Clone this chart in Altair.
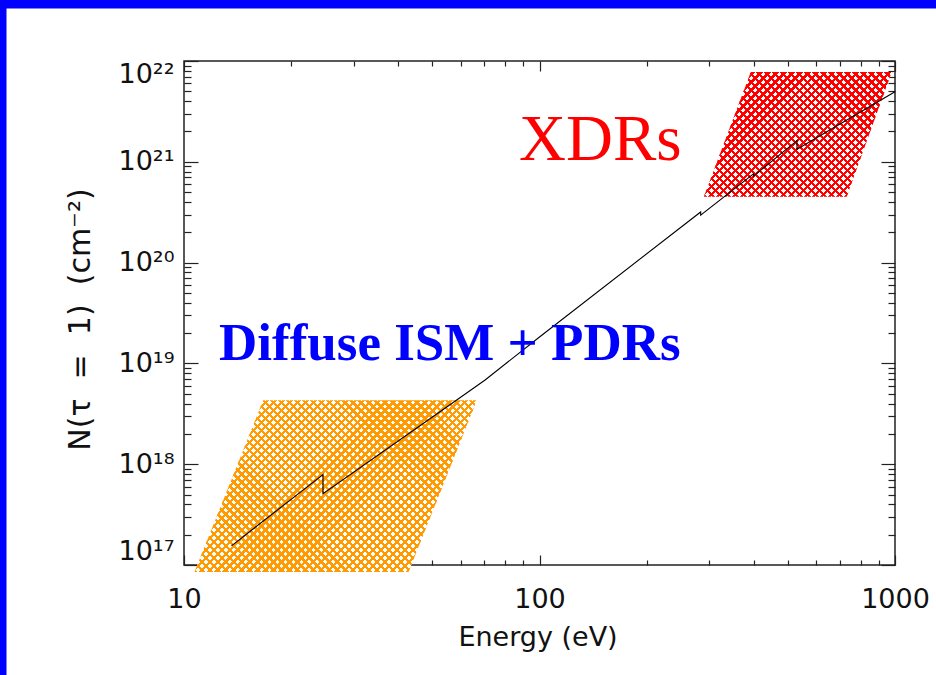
import math
import altair as alt
import pandas as pd

# ---------------- data ----------------
energy_ev = [13.6, 24.6, 24.6, 58.5, 70.3, 100, 284, 284, 400, 400, 530, 530, 1000]
column_cm2 = [1.55e17, 7.9e17, 5.1e17, 4.34e18, 6.85e18, 1.83e19, 3.18e20, 2.95e20,
              7.6e20, 7.2e20, 1.62e21, 1.33e21, 4.96e21]

# parallelogram regions: bottom edge and top edge
diffuse_N = [8.5e16, 4.3e18]
diffuse_E_left = [10.7, 16.7]
diffuse_E_right = [42.8, 66.6]
xdr_N = [4.5e20, 7.8e21]
xdr_E_left = [290, 393]
xdr_E_right = [731, 979]

label_text = ["XDRs", "Diffuse ISM + PDRs"]
label_E = [87.6, 12.55]
label_N = [1.04e21, 1.08e19]

x_major = [10, 100, 1000]
x_minor = [20, 30, 40, 50, 60, 70, 80, 90, 200, 300, 400, 500, 600, 700, 800, 900]
y_major = [1e17, 1e18, 1e19, 1e20, 1e21, 1e22]
y_minor = [2e17, 3e17, 4e17, 5e17, 6e17, 7e17, 8e17, 9e17,
           2e18, 3e18, 4e18, 5e18, 6e18, 7e18, 8e18, 9e18,
           2e19, 3e19, 4e19, 5e19, 6e19, 7e19, 8e19, 9e19,
           2e20, 3e20, 4e20, 5e20, 6e20, 7e20, 8e20, 9e20,
           2e21, 3e21, 4e21, 5e21, 6e21, 7e21, 8e21, 9e21]

# ---------------- tables ----------------
line_df = pd.DataFrame({"E": energy_ev, "N": column_cm2, "i": list(range(len(energy_ev)))})
diffuse_df = pd.DataFrame({"N": diffuse_N, "El": diffuse_E_left, "Er": diffuse_E_right})
xdr_df = pd.DataFrame({"N": xdr_N, "El": xdr_E_left, "Er": xdr_E_right})
label_df = pd.DataFrame({"t": label_text, "E": label_E, "N": label_N})

W, H = 711, 504
LEFT, TOP = 184, 61
X_DEC, Y_DEC = 2, 5  # decades spanned by the axes

xscale = alt.Scale(type="log", domain=[10, 1000], nice=False)
yscale = alt.Scale(type="log", domain=[1e17, 1e22], nice=False)

FONT = "DejaVu Sans"
TICK_COLOR = "#222222"
HATCH_PERIOD = 8.0  # px, horizontal period of the cross-hatch
NBSP = "\u00a0"
Y_TITLE = "N(τ" + " " + NBSP + "=" + NBSP + " 1)" + " " + NBSP + "(cm⁻²)"


def stripes(color, bg, frac, e_left, e_right, n_vals, anti):
    # size (px) of the region's bounding box, so the hatch is square at 45 degrees
    bw = W / X_DEC * math.log10(max(e_right) / min(e_left))
    bh = H / Y_DEC * math.log10(max(n_vals) / min(n_vals))
    n = max(1, round((bw + bh) / HATCH_PERIOD))
    k = (bw + bh) / (bw * bw + bh * bh)
    a, b = bw * k, bh * k
    stops = []
    for i in range(n):
        t0 = i / n
        t1 = (i + frac) / n
        t2 = (i + 1) / n
        stops += [alt.GradientStop(offset=t0, color=color),
                  alt.GradientStop(offset=t1, color=color),
                  alt.GradientStop(offset=t1, color=bg),
                  alt.GradientStop(offset=t2, color=bg)]
    if anti:
        return alt.LinearGradient(gradient="linear", stops=stops, x1=0, y1=1, x2=a, y2=1 - b)
    return alt.LinearGradient(gradient="linear", stops=stops, x1=0, y1=0, x2=a, y2=b)


def xaxis(orient, values, size, labels=False, title=None):
    kw = dict(orient=orient, values=values, tickSize=size, offset=-size, domain=False,
              grid=False, labels=labels, tickColor=TICK_COLOR, tickWidth=1.2, title=title)
    if labels:
        kw.update(format="d", labelFont=FONT, labelFontSize=27, labelColor="#111111",
                  labelPadding=21, labelFlush=False, labelOverlap=False)
    if title:
        kw.update(titleFont=FONT, titleFontSize=27, titleFontWeight="normal",
                  titleColor="#111111", titleX=W / 2 - 2, titleY=90,
                  titleAlign="center", titleBaseline="alphabetic")
    return alt.Axis(**kw)


Y_LABEL_EXPR = ("datum.value < 5e17 ? '10¹⁷' : datum.value < 5e18 ? '10¹⁸' : "
                "datum.value < 5e19 ? '10¹⁹' : datum.value < 5e20 ? '10²⁰' : "
                "datum.value < 5e21 ? '10²¹' : '10²²'")


def yaxis(orient, values, size, labels=False, title=None):
    kw = dict(orient=orient, values=values, tickSize=size, offset=-size, domain=False,
              grid=False, labels=labels, tickColor=TICK_COLOR, tickWidth=1.2, title=title)
    if labels:
        kw.update(labelExpr=Y_LABEL_EXPR, labelFont=FONT, labelFontSize=27,
                  labelColor="#111111", labelPadding=10, labelFlush=True,
                  labelOverlap=False)
    if title:
        kw.update(titleFont=FONT, titleFontSize=30, titleFontWeight="normal",
                  titleColor="#111111", titleX=-118, titleY=H / 2 + 6,
                  titleAlign="center", titleBaseline="middle", titleAngle=270)
    return alt.Axis(**kw)


ORANGE = "#FF9A00"
RED = "#FF0000"
CLEAR = "rgba(255,255,255,0)"

orange_a = alt.Chart(diffuse_df).mark_area(
    orient="horizontal",
    fill=stripes(ORANGE, "#FFFFFF", 0.42, diffuse_E_left, diffuse_E_right, diffuse_N, False)
).encode(
    y=alt.Y("N:Q", scale=yscale, axis=yaxis("left", y_major, 14, True, Y_TITLE)),
    x=alt.X("El:Q", scale=xscale, axis=xaxis("bottom", x_major, 10, True, "Energy (eV)")),
    x2="Er:Q",
)
orange_b = alt.Chart(diffuse_df).mark_area(
    orient="horizontal",
    fill=stripes(ORANGE, CLEAR, 0.42, diffuse_E_left, diffuse_E_right, diffuse_N, True)
).encode(
    y=alt.Y("N:Q", scale=yscale, axis=yaxis("right", y_major, 14)),
    x=alt.X("El:Q", scale=xscale, axis=xaxis("top", x_major, 10)),
    x2="Er:Q",
)
red_a = alt.Chart(xdr_df).mark_area(
    orient="horizontal",
    fill=stripes(RED, "#FFFFFF", 0.42, xdr_E_left, xdr_E_right, xdr_N, False)
).encode(
    y=alt.Y("N:Q", scale=yscale, axis=yaxis("left", y_minor, 7)),
    x=alt.X("El:Q", scale=xscale, axis=xaxis("bottom", x_minor, 5)),
    x2="Er:Q",
)
red_b = alt.Chart(xdr_df).mark_area(
    orient="horizontal",
    fill=stripes(RED, CLEAR, 0.42, xdr_E_left, xdr_E_right, xdr_N, True)
).encode(
    y=alt.Y("N:Q", scale=yscale, axis=yaxis("right", y_minor, 7)),
    x=alt.X("El:Q", scale=xscale, axis=xaxis("top", x_minor, 5)),
    x2="Er:Q",
)

line = alt.Chart(line_df).mark_line(color="#000000", strokeWidth=1.1).encode(
    x=alt.X("E:Q", scale=xscale, axis=None),
    y=alt.Y("N:Q", scale=yscale, axis=None),
    order=alt.Order("i:Q"),
)

xdr_text = alt.Chart(label_df).transform_filter(alt.datum.t == "XDRs").mark_text(
    align="left", baseline="alphabetic", font="Liberation Serif", fontSize=65,
    color=RED
).encode(
    x=alt.X("E:Q", scale=xscale, axis=None),
    y=alt.Y("N:Q", scale=yscale, axis=None),
    text="t:N",
)
ism_text = alt.Chart(label_df).transform_filter(alt.datum.t != "XDRs").mark_text(
    align="left", baseline="alphabetic", font="Liberation Serif", fontSize=53,
    fontWeight="bold", color="#0000FF"
).encode(
    x=alt.X("E:Q", scale=xscale, axis=None),
    y=alt.Y("N:Q", scale=yscale, axis=None),
    text="t:N",
)

frame_src = pd.DataFrame({"k": [0]})
border_top = alt.Chart(frame_src).mark_rule(color="#0000FF", strokeWidth=8.5).encode(
    x=alt.value(-LEFT), x2=alt.value(936 - LEFT), y=alt.value(4.25 - TOP)
)
border_left = alt.Chart(frame_src).mark_rule(color="#0000FF", strokeWidth=6.5).encode(
    x=alt.value(3.25 - LEFT), y=alt.value(-TOP), y2=alt.value(675 - TOP)
)

chart = alt.layer(
    orange_a, orange_b, red_a, red_b, line, xdr_text, ism_text, border_top, border_left
).resolve_axis(
    x="independent", y="independent"
).properties(
    width=W, height=H, autosize="none", background="white",
    padding={"left": LEFT, "top": TOP, "right": 936 - LEFT - W, "bottom": 675 - TOP - H},
).configure_view(stroke=TICK_COLOR, strokeWidth=1.5)

chart.save("out.html", embed_options={"renderer": "svg", "actions": False})
